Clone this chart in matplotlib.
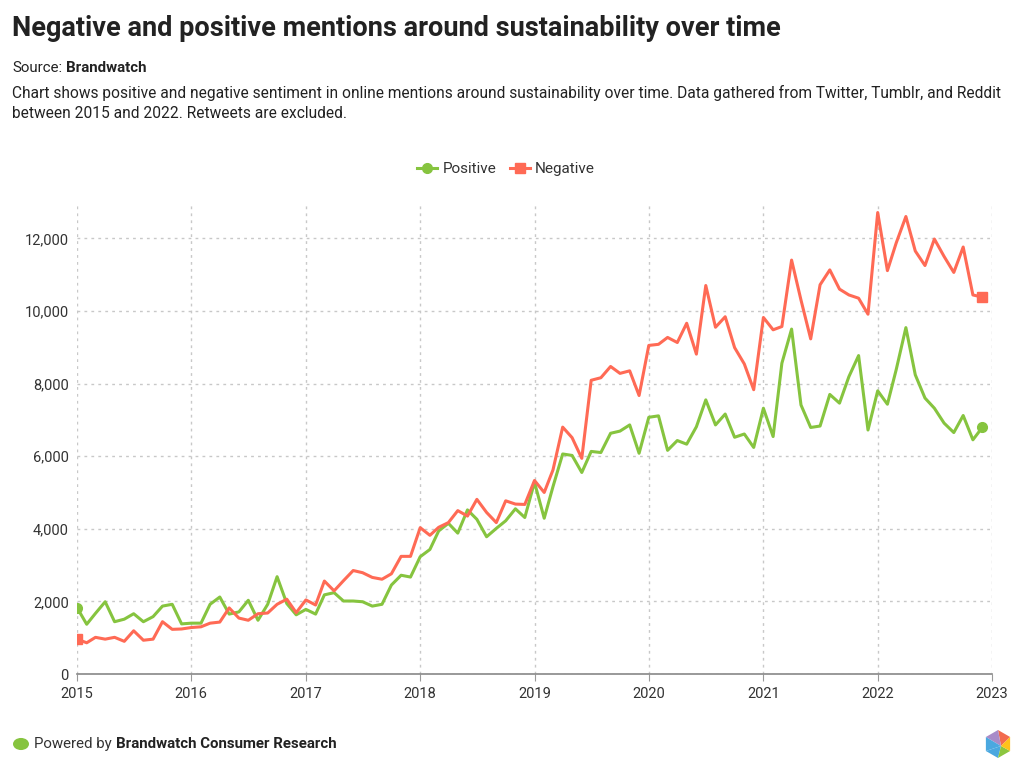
import matplotlib
matplotlib.use('Agg')
import matplotlib.pyplot as plt
import matplotlib.dates as mdates
from matplotlib.patches import Polygon, Circle
import numpy as np
import pandas as pd

plt.rcParams['font.family'] = ['Roboto', 'DejaVu Sans']

# monthly values, Jan 2015 .. Dec 2022
months = pd.date_range('2015-01-01', periods=96, freq='MS')

positive = [
    1830, 1370, 1670, 1990, 1440, 1510, 1660, 1440, 1580, 1870, 1920, 1380,
    1400, 1400, 1920, 2120, 1650, 1710, 2030, 1480, 1920, 2680, 1940, 1630,
    1780, 1650, 2180, 2240, 2010, 2010, 1990, 1870, 1920, 2450, 2720, 2670,
    3230, 3430, 3940, 4150, 3880, 4520, 4260, 3780, 4010, 4220, 4550, 4310,
    5280, 4290, 5160, 6060, 6020, 5550, 6130, 6100, 6630, 6690, 6860, 6080,
    7070, 7110, 6160, 6430, 6330, 6810, 7550, 6860, 7160, 6520, 6610, 6240,
    7320, 6540, 8560, 9500, 7410, 6790, 6830, 7700, 7460, 8190, 8770, 6720,
    7800, 7430, 8380, 9540, 8240, 7600, 7320, 6910, 6650, 7120, 6450, 6790,
]
negative = [
    960, 860, 1010, 960, 1010, 900, 1190, 930, 960, 1440, 1230, 1240,
    1280, 1300, 1400, 1430, 1820, 1540, 1480, 1660, 1680, 1920, 2060, 1690,
    2040, 1900, 2560, 2290, 2570, 2850, 2790, 2660, 2610, 2760, 3240, 3240,
    4030, 3820, 4040, 4170, 4500, 4350, 4810, 4450, 4170, 4770, 4680, 4670,
    5330, 5000, 5620, 6800, 6510, 5940, 8090, 8160, 8470, 8280, 8350, 7670,
    9050, 9080, 9270, 9130, 9660, 8810, 10700, 9550, 9840, 8990, 8540, 7830,
    9820, 9480, 9570, 11400, 10300, 9230, 10720, 11130, 10600, 10440, 10350, 9910,
    12710, 11110, 11870, 12600, 11650, 11250, 11980, 11500, 11060, 11760, 10440, 10380,
]
series_names = ['Positive', 'Negative']
year_ticks = pd.date_range('2015-01-01', periods=9, freq='YS')
y_ticks = [0, 2000, 4000, 6000, 8000, 10000, 12000]

green = '#86c43f'
red = '#ff6a55'
text_col = '#222222'

fig = plt.figure(figsize=(10.24, 7.74), dpi=100)
W, H = 1024, 774
ax = fig.add_axes([77 / W, 1 - 674 / H, (992 - 77) / W, (674 - 202) / H])

ax.plot(months, positive, color=green, lw=2.2, marker='o', ms=7,
        markevery=[0, len(positive) - 1], label=series_names[0], zorder=3)
ax.plot(months, negative, color=red, lw=2.2, marker='s', ms=6.5,
        markevery=[0, len(negative) - 1], label=series_names[1], zorder=3)

ax.set_xlim(year_ticks[0], year_ticks[-1])
ax.set_ylim(0, 13000)
ax.set_xticks(year_ticks)
ax.xaxis.set_major_formatter(mdates.DateFormatter('%Y'))
ax.set_yticks(y_ticks)
ax.set_yticklabels([f'{v:,}' for v in y_ticks])
ax.tick_params(axis='both', length=0, labelsize=10.5, colors='#333333', pad=6)
ax.tick_params(axis='x', length=5, color='#999999', pad=4)
ax.grid(True, color='#c8c8c8', ls=(0, (2, 3)), lw=1)
for s in ['top', 'right', 'left']:
    ax.spines[s].set_visible(False)
ax.spines['bottom'].set_color('#888888')
ax.spines['bottom'].set_linewidth(1.2)

leg = fig.legend(*ax.get_legend_handles_labels(), loc='center',
                 bbox_to_anchor=(506 / W, 1 - 169 / H), ncol=2, frameon=False,
                 fontsize=11, handlelength=1.3, columnspacing=0.9, handletextpad=0.35)
for t in leg.get_texts():
    t.set_color('#333333')

# header
fig.text(12 / W, 1 - 29 / H, 'Negative and positive mentions around sustainability over time',
         fontsize=19.5, fontweight='bold', color=text_col, va='center')
renderer = fig.canvas.get_renderer()
t1 = fig.text(12 / W, 1 - 68 / H, 'Source:', fontsize=10.8, color=text_col, va='center')
bb = t1.get_window_extent(renderer)
fig.text((bb.x1 + 4) / W, 1 - 68 / H, 'Brandwatch', fontsize=10.8, fontweight='bold',
         color=text_col, va='center')
fig.text(12 / W, 1 - 93 / H,
         'Chart shows positive and negative sentiment in online mentions around sustainability over time. '
         'Data gathered from Twitter, Tumblr, and Reddit', fontsize=11.2, color=text_col, va='center')
fig.text(12 / W, 1 - 114 / H, 'between 2015 and 2022. Retweets are excluded.',
         fontsize=11.2, color=text_col, va='center')

# footer
fig.patches.append(Circle((21 / W, 1 - 744 / H), 8 / W, transform=fig.transFigure,
                          color=green, ec='none'))
t2 = fig.text(34 / W, 1 - 744 / H, 'Powered by', fontsize=10.8, color='#333333', va='center')
bb = t2.get_window_extent(renderer)
fig.text((bb.x1 + 4) / W, 1 - 744 / H, 'Brandwatch Consumer Research', fontsize=10.8,
         fontweight='bold', color=text_col, va='center')

# little hexagon logo
cx, cy, r = 998, 744, 14
ang = np.deg2rad(np.arange(6) * 60 + 30)
pts = [(cx + r * np.cos(a), cy - r * np.sin(a)) for a in ang]
cols = ['#f26b4f', '#a98bc8', '#4aa8e0', '#4aa8e0', '#8cc63f', '#ffc21a']
for k in range(6):
    p1, p2 = pts[k], pts[(k + 1) % 6]
    tri = [(cx + 3) / W, 1 - (cy + 2) / H], [p1[0] / W, 1 - p1[1] / H], [p2[0] / W, 1 - p2[1] / H]
    fig.patches.append(Polygon(tri, closed=True, transform=fig.transFigure,
                               color=cols[k], ec='none'))

fig.savefig('out.png', dpi=100)
